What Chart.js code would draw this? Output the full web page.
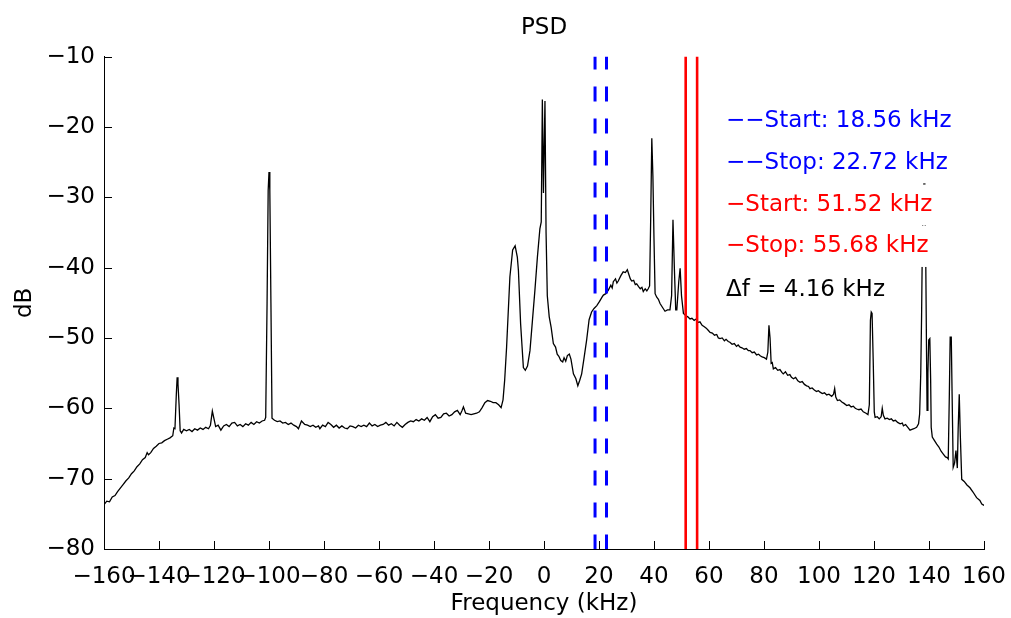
<!DOCTYPE html>
<html>
<head>
<meta charset="utf-8">
<script src="https://cdn.jsdelivr.net/npm/chart.js@4.4.1/dist/chart.umd.min.js"></script>
<style>
  html, body { margin: 0; padding: 0; background: #ffffff; }
  #wrap { width: 1011px; height: 618px; overflow: hidden; }
</style>
</head>
<body>
<div id="wrap"><canvas id="c" width="1011" height="618"></canvas></div>
<script>
// ---------- data ----------
const freqKHz = [
  -160,-159,-158,-157,-156,-155,-154,-153,-152,-151,-150,-149,-148,-147,-146,-145,-144.3,-143.8,-143,-142,
  -141,-140,-139,-138,-137,-136,-135,-134.6,-134.2,-133.7,-133.4,-133.1,-132.7,-132.3,-131.8,-131,-130,-129,-128,-127,
  -126,-125,-124,-123,-122,-121.3,-120.6,-120.0,-119.4,-118.5,-117.5,-116.5,-115.5,-114.5,-113.5,-112.5,-111.5,-110.5,-109.5,-108.5,
  -107.5,-106.5,-105.5,-104.5,-103.5,-102.5,-101.6,-101.2,-100.7,-100.3,-100.0,-99.7,-99.3,-98.9,-98,-97,-96,-95,-94,-93,
  -92,-91,-90,-89.3,-88.2,-87,-86,-85,-84,-83,-82,-81.5,-80.5,-79.5,-78.5,-77.5,-76.5,-75.5,-74.5,-73.5,
  -72.5,-71.5,-70.5,-69.5,-68.5,-67.5,-66.5,-65.5,-64.5,-63.5,-62.5,-61.5,-60.5,-59.5,-58.5,-57.5,-56.5,-55.5,-54.5,-53.5,
  -52.5,-51.5,-50.5,-49.5,-48.5,-47.5,-46.5,-45.5,-44.5,-43.5,-42.5,-41.5,-40.5,-39.5,-38.5,-37.5,-36.5,-35.5,-34.5,-33.5,
  -32.5,-31.5,-30.5,-29.8,-29.3,-28.5,-27.5,-26.5,-25.5,-24.5,-23.5,-22.5,-21.5,-20.5,-19.5,-18.5,-17.5,-16.5,-15.6,-14.9,
  -14.3,-13.6,-12.4,-11.4,-10.5,-9.7,-9.3,-8.5,-7.5,-6.8,-6.0,-5.1,-4.2,-3.3,-2.4,-1.5,-1.0,-0.6,-0.2,0.35,
  0.75,1.2,1.9,2.6,3.4,4.2,4.8,5.4,6.1,6.8,7.3,7.9,8.5,9.2,9.8,10.7,11.6,12.3,13.0,13.7,
  14.5,15.5,16.4,17.3,18.2,19.2,20.2,21.1,21.6,22.5,23.4,24.3,24.8,25.2,26.0,26.5,27.0,28.0,28.8,29.6,
  30.3,30.8,31.4,31.9,32.6,33.2,33.7,34.4,35.0,35.6,36.1,36.8,37.4,37.9,38.4,38.8,39.2,39.6,40.0,40.4,
  41.0,41.6,42.2,43.0,44.0,44.9,45.8,46.4,46.9,47.4,47.9,48.3,49.0,49.5,50.0,50.7,51.5,52.3,53.1,53.8,
  54.6,55.4,56.0,56.7,57.5,58.3,59.0,59.7,60.4,61.2,62.0,62.8,63.4,64.0,64.8,65.6,66.2,67.0,67.6,68.4,
  69.2,70.0,70.6,71.3,72.0,72.8,73.6,74.3,74.9,75.7,76.5,77.3,78.0,78.5,79.3,80.1,80.9,81.4,81.8,82.2,
  82.6,83.0,83.4,84.2,85.0,85.8,86.5,87.0,87.8,88.6,89.4,90.0,90.7,91.5,92.3,93.1,93.9,94.7,95.5,96.2,
  96.7,97.5,98.3,99.1,99.8,100.4,101.2,102.0,102.8,103.6,104.6,105.3,105.7,106.1,106.7,107.5,108.3,109.1,110.1,110.9,
  111.7,112.5,113.2,113.7,114.5,115.3,116.1,117.1,117.8,118.3,118.7,119.0,119.3,119.7,120.1,120.4,121.2,121.9,122.6,123.0,
  123.4,124.0,124.8,125.6,126.3,127.0,127.8,128.6,129.5,130.3,130.7,131.5,132.3,133.1,133.8,134.5,135.5,136.2,136.6,137.0,
  137.3,137.6,137.9,138.2,138.5,138.8,139.1,139.3,139.6,139.9,140.3,140.6,140.8,141.2,142.0,142.8,143.6,144.4,145.2,146.0,
  146.6,147.0,147.4,147.7,148.1,148.4,148.8,149.3,149.8,150.3,150.6,151.0,151.4,151.9,152.8,153.8,154.9,156.0,157.3,158.5,
  159.2,160.0
];
const psdDb = [
  -73.7,-73.2,-73.3,-72.6,-72.4,-71.8,-71.3,-70.8,-70.3,-69.9,-69.3,-68.9,-68.3,-67.9,-67.3,-67.0,-66.3,-66.6,-66.3,-65.7,
  -65.4,-65.0,-64.9,-64.6,-64.4,-64.2,-63.9,-62.8,-62.9,-58.0,-55.6,-56.5,-59.5,-63.2,-63.5,-63.0,-63.2,-63.0,-63.3,-62.9,
  -63.1,-62.8,-63.0,-62.7,-62.9,-62.4,-60.4,-61.5,-62.6,-62.4,-63.1,-62.5,-62.3,-62.6,-62.1,-62.0,-62.5,-62.3,-62.6,-62.2,
  -62.4,-62.0,-62.3,-61.9,-62.1,-61.8,-61.7,-61.3,-45.0,-29.0,-26.4,-29.0,-45.0,-61.4,-61.7,-61.9,-61.8,-62.1,-62.0,-62.3,
  -62.1,-62.4,-62.6,-62.9,-61.8,-62.3,-62.4,-62.6,-62.4,-62.7,-62.5,-62.9,-62.4,-62.6,-62.0,-62.3,-62.7,-62.4,-62.8,-62.5,
  -62.8,-62.9,-62.5,-62.6,-62.8,-62.4,-62.6,-62.4,-62.6,-62.1,-62.5,-62.3,-62.6,-62.4,-62.3,-62.0,-62.4,-62.2,-62.5,-62.0,
  -62.4,-62.7,-62.3,-62.0,-61.8,-61.9,-61.6,-61.8,-61.5,-61.7,-61.3,-61.9,-61.2,-60.9,-61.4,-61.3,-60.8,-60.7,-61.1,-60.9,
  -60.5,-60.3,-60.9,-60.3,-59.8,-60.7,-60.8,-60.9,-60.8,-60.7,-60.5,-59.9,-59.2,-58.9,-59.0,-59.2,-59.2,-59.5,-59.9,-58.8,
  -56.0,-51.3,-41.3,-37.5,-36.9,-38.5,-40.4,-48.0,-54.2,-54.6,-54.0,-51.8,-47.5,-43.2,-38.5,-34.5,-33.5,-16.1,-29.4,-16.3,
  -35.0,-44.0,-47.0,-48.5,-50.8,-51.3,-52.3,-52.6,-53.2,-53.4,-52.8,-53.3,-52.5,-52.3,-53.0,-55.1,-55.8,-56.8,-56.0,-55.1,
  -53.0,-50.3,-47.4,-46.3,-45.8,-45.4,-44.8,-44.2,-43.9,-43.7,-43.2,-42.5,-42.9,-42.0,-41.6,-42.2,-41.9,-41.1,-40.6,-40.7,
  -40.3,-40.9,-41.6,-41.9,-41.8,-42.4,-42.3,-42.7,-43.0,-42.8,-43.4,-43.0,-43.3,-43.0,-42.6,-33.0,-21.6,-27.0,-36.0,-43.7,
  -44.2,-44.5,-45.1,-45.6,-46.2,-46.0,-46.0,-44.0,-33.2,-40.0,-46.0,-46.0,-42.0,-40.1,-44.0,-46.5,-46.8,-47.0,-47.3,-47.2,
  -47.5,-47.3,-47.8,-47.7,-48.2,-48.4,-48.6,-48.9,-49.2,-49.3,-49.6,-49.5,-50.0,-50.1,-50.0,-50.4,-50.2,-50.5,-50.6,-50.9,
  -50.8,-51.2,-51.0,-51.3,-51.4,-51.6,-51.5,-51.8,-51.8,-52.1,-52.0,-52.4,-52.3,-52.5,-52.7,-52.8,-53.0,-52.0,-48.2,-50.0,
  -53.6,-53.5,-54.4,-54.2,-54.6,-54.5,-54.9,-55.1,-54.8,-55.3,-55.2,-55.6,-55.8,-55.6,-56.1,-56.3,-56.2,-56.6,-56.8,-56.9,
  -57.2,-57.1,-57.4,-57.6,-57.5,-57.7,-57.9,-57.8,-58.1,-58.0,-58.3,-58.0,-57.2,-58.4,-58.9,-58.8,-59.1,-59.3,-59.6,-59.5,
  -59.8,-59.7,-60.0,-60.1,-60.2,-60.1,-60.5,-60.7,-60.9,-59.5,-47.5,-46.3,-46.5,-53.0,-60.5,-61.3,-61.2,-61.5,-61.2,-60.0,
  -61.0,-61.5,-61.4,-61.6,-61.5,-61.8,-61.7,-62.0,-62.2,-62.1,-62.5,-62.3,-62.7,-63.1,-63.0,-62.9,-62.7,-62.2,-60.8,-55.1,
  -47.0,-36.0,-29.5,-27.5,-30.0,-38.0,-52.0,-60.3,-55.0,-50.3,-50.1,-56.0,-62.7,-64.1,-64.6,-65.1,-65.5,-66.1,-66.5,-66.9,
  -67.0,-67.2,-58.0,-49.9,-49.9,-58.0,-68.4,-67.8,-66.0,-68.5,-63.0,-58.0,-64.0,-70.1,-70.4,-70.9,-71.3,-71.9,-72.7,-73.1,
  -73.6,-73.8
];
// marker frequencies (kHz): blue start/stop, red start/stop
const blueMarkers = [18.56, 22.72];
const redMarkers = [51.52, 55.68];
const yRange = [-80, -10];
const xTicks = { min: -160, max: 160, step: 20 };
const yTicks = { min: -80, max: -10, step: 10 };

const minus = s => String(s).replace(/-/g, '\u2212');
const fmt = v => v.toFixed(2);
const labelLines = [
  { text: '\u2212\u2212Start: ' + fmt(blueMarkers[0]) + ' kHz', color: '#0000ff' },
  { text: '\u2212\u2212Stop: ' + fmt(blueMarkers[1]) + ' kHz', color: '#0000ff' },
  { text: '\u2212Start: ' + fmt(redMarkers[0]) + ' kHz', color: '#ff0000' },
  { text: '\u2212Stop: ' + fmt(redMarkers[1]) + ' kHz', color: '#ff0000' },
  { text: '\u0394f = ' + fmt(redMarkers[1] - redMarkers[0]) + ' kHz', color: '#000000' }
];

// ---------- chart ----------
const FONT = "'DejaVu Sans', Arial, Helvetica, sans-serif";
const psdPoints = freqKHz.map((f, i) => ({ x: f, y: psdDb[i] }));
const vline = (f) => [{ x: f, y: yRange[1] }, { x: f, y: yRange[0] }];

const datasets = [];
blueMarkers.forEach(f => datasets.push({
  data: vline(f), showLine: true, pointRadius: 0, borderColor: '#0000ff',
  borderWidth: 3, borderDash: [15, 17], borderDashOffset: 2, order: 1
}));
redMarkers.forEach(f => datasets.push({
  data: vline(f), showLine: true, pointRadius: 0, borderColor: '#ff0000',
  borderWidth: 2.6, order: 1
}));
datasets.push({
  data: psdPoints, showLine: true, pointRadius: 0, borderColor: '#000000',
  borderWidth: 1.3, tension: 0, order: 2
});

const inwardTicks = {
  id: 'inwardTicks',
  afterDatasetsDraw(chart) {
    const { ctx, chartArea: a, scales: { x, y } } = chart;
    ctx.save();
    ctx.strokeStyle = '#000'; ctx.lineWidth = 1;
    ctx.beginPath();
    x.ticks.forEach(t => {
      const px = Math.round(x.getPixelForValue(t.value)) + 0.5;
      ctx.moveTo(px, a.bottom); ctx.lineTo(px, a.bottom - 8);
    });
    y.ticks.forEach(t => {
      const py = Math.round(y.getPixelForValue(t.value)) + 0.5;
      ctx.moveTo(a.left, py); ctx.lineTo(a.left + 8, py);
    });
    ctx.stroke();
    ctx.restore();
  }
};

const textLabels = {
  id: 'textLabels',
  afterDatasetsDraw(chart, args, opts) {
    const { ctx, scales: { x, y } } = chart;
    ctx.save();
    ctx.font = '23px ' + FONT;
    ctx.textBaseline = 'middle';
    ctx.textAlign = 'left';
    const x0 = x.getPixelForValue(opts.xKHz);
    labelLines.forEach((l, i) => {
      const cy = y.getPixelForValue(opts.yDb[i]);
      const w = ctx.measureText(l.text).width;
      ctx.fillStyle = '#ffffff';
      ctx.fillRect(x0 - 3, cy - 20.5, w + 6, 41);
    });
    labelLines.forEach((l, i) => {
      const cy = y.getPixelForValue(opts.yDb[i]);
      ctx.fillStyle = l.color;
      ctx.fillText(l.text, x0, cy);
    });
    ctx.restore();
  }
};

new Chart(document.getElementById('c'), {
  type: 'scatter',
  data: { datasets },
  plugins: [inwardTicks, textLabels],
  options: {
    responsive: false,
    animation: false,
    devicePixelRatio: 1,
    layout: { padding: { top: 0, left: 0, right: 27, bottom: 0 } },
    plugins: {
      legend: { display: false },
      tooltip: { enabled: false },
      title: {
        display: true, text: 'PSD', color: '#000', fullSize: false,
        font: { family: FONT, size: 23, weight: 'normal' },
        padding: { top: 14, bottom: 15 }
      },
      textLabels: { xKHz: 66.2, yDb: [-19.12, -25.11, -31.10, -36.99, -43.12] }
    },
    scales: {
      x: {
        type: 'linear', min: xTicks.min, max: xTicks.max,
        afterFit: s => { s.height = 69; s.paddingLeft = 0; s.paddingRight = 0; },
        grid: { display: false, drawTicks: false },
        border: { display: true, color: '#000', width: 1 },
        ticks: {
          stepSize: xTicks.step, autoSkip: false, maxRotation: 0, minRotation: 0,
          color: '#000', padding: 14, font: { family: FONT, size: 23 },
          callback: v => minus(v)
        },
        title: {
          display: true, text: 'Frequency (kHz)', color: '#000',
          font: { family: FONT, size: 23 }, padding: { top: 0, bottom: 0 }
        }
      },
      y: {
        type: 'linear', min: yTicks.min, max: yTicks.max,
        afterFit: s => { s.width = 104; s.paddingTop = 0; s.paddingBottom = 0; },
        grid: { display: false, drawTicks: false },
        border: { display: true, color: '#000', width: 1 },
        ticks: {
          stepSize: yTicks.step, color: '#000', padding: 9,
          font: { family: FONT, size: 23 },
          callback: v => minus(v)
        },
        title: {
          display: true, text: 'dB', color: '#000',
          font: { family: FONT, size: 23 }, padding: { top: 11, bottom: 0 }
        }
      }
    }
  }
});
</script>
</body>
</html>
